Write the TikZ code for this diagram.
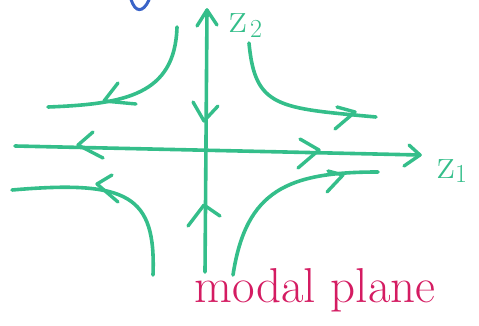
\documentclass[tikz,border=0pt]{standalone}
\usepackage{tikz}
\definecolor{pen}{RGB}{52,190,138}
\definecolor{ink}{RGB}{212,28,98}
\definecolor{bluepen}{RGB}{58,100,200}
\begin{document}
\begin{tikzpicture}[x=1pt,y=-1pt,
  stroke/.style={draw=pen,line width=3.6pt,line cap=round,line join=round},
  chev/.style={draw=pen,line width=3.4pt,line cap=round,line join=round},
  lbl/.style={text=pen,inner sep=0pt,font=\fontsize{44}{48}\selectfont}]
\useasboundingbox (0,0) rectangle (479,326);
% axes
\coordinate (hL) at (15,146);
\coordinate (hR) at (420,155);
\coordinate (vB) at (205,272);
\coordinate (vT) at (207,10);
\draw[stroke] (hL) -- (hR);
\draw[stroke] (vB) -- (vT);
% axis chevrons
\draw[chev] (197,26) -- (vT) -- (217,25);
\draw[chev] (409,145) -- (hR) -- (404,166);
\draw[chev] (193,102) -- (204,121) -- (218,106);
\draw[chev] (188,226) -- (204,205) -- (220,216);
\draw[chev] (93,132) -- (78,145) -- (103,158);
\draw[chev] (300,139) -- (319,150) -- (298,168);
% hyperbolic trajectories
\coordinate (ulA) at (177,27);  \coordinate (ulB) at (48,107);
\coordinate (urA) at (249,43);  \coordinate (urB) at (376,117);
\coordinate (llA) at (153,275); \coordinate (llB) at (12,190);
\coordinate (lrA) at (233,275); \coordinate (lrB) at (378,172);
\draw[stroke] (ulA) .. controls (175,95) and (125,104) .. (ulB);
\draw[stroke] (urA) .. controls (255,108) and (278,108) .. (urB);
\draw[stroke] (llA) .. controls (156,195) and (128,180) .. (llB);
\draw[stroke] (lrA) .. controls (246,190) and (288,172) .. (lrB);
% trajectory chevrons
\draw[chev] (118,83) -- (104,101) -- (136,104);
\draw[chev] (337,107) -- (355,112) -- (335,129);
\draw[chev] (112,175) -- (97,184) -- (118,202);
\draw[chev] (328,171) -- (343,175) -- (327,192);
% labels
\node[lbl,anchor=base west] (z2) at (229,33) {z\kern3pt\raisebox{-5pt}{\fontsize{26}{30}\selectfont 2}};
\node[lbl,anchor=base west] (z1) at (437,178) {z\raisebox{-5pt}{\fontsize{26}{30}\selectfont 1}};
\node[text=ink,inner sep=0pt,font=\fontsize{49}{54}\selectfont,anchor=base] (mp) at (315,302) {modal plane};
% partial blue mark at top
\draw[draw=bluepen,line width=3pt,line cap=round] (131,-1) .. controls (135,13) and (143,13) .. (149,0);
\end{tikzpicture}
\end{document}
